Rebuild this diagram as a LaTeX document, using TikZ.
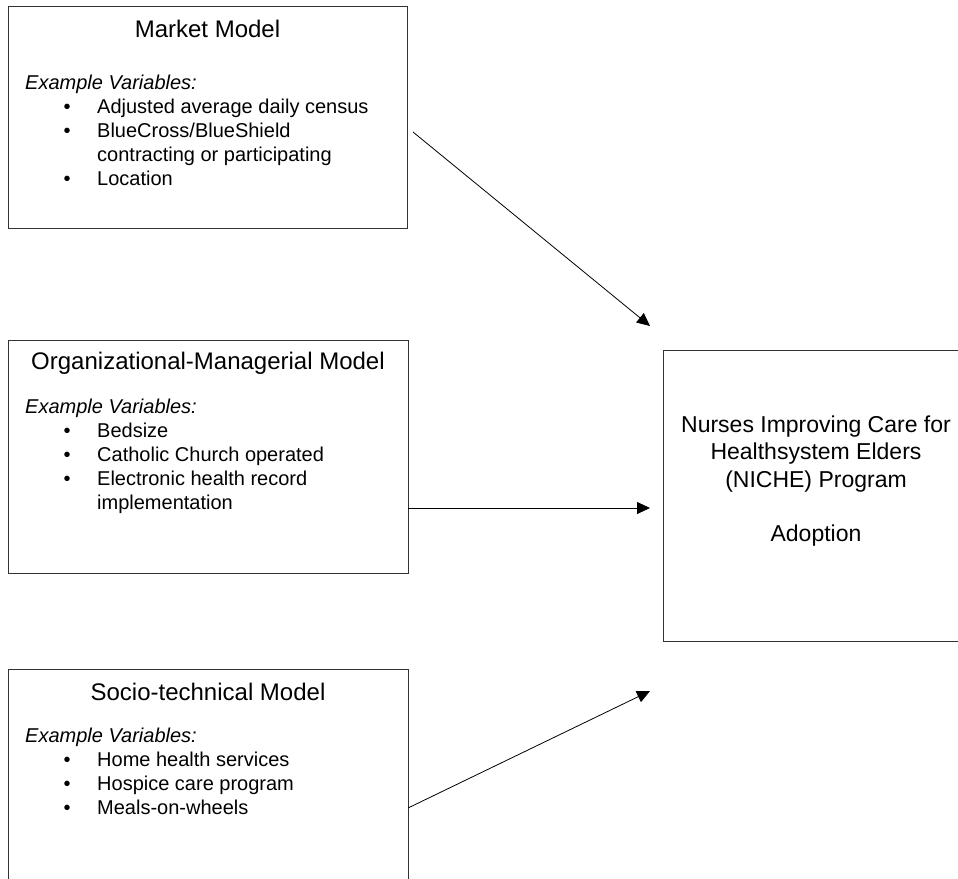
\documentclass[tikz,border=0pt]{standalone}
\usepackage{fontspec}
\setmainfont{Liberation Sans}
\usetikzlibrary{arrows.meta}
\tikzset{
  box/.style={draw=black!80, line width=1pt, anchor=north west, inner sep=0pt},
  head/.style={anchor=base, inner sep=0pt, font=\fontsize{24}{28}\selectfont},
  lead/.style={anchor=base west, inner sep=0pt, font=\fontsize{20}{24}\selectfont\itshape},
  dot/.style={anchor=base, inner sep=0pt, font=\fontsize{20}{24}\selectfont},
  item/.style={anchor=base west, inner sep=0pt, font=\fontsize{20}{24}\selectfont},
  goal/.style={anchor=base, inner sep=0pt, font=\fontsize{23}{27}\selectfont},
  link/.style={-{Triangle[length=13pt,width=12pt]}, line width=0.8pt}
}
\newcommand{\bul}{\textbullet}

\begin{document}
\begin{tikzpicture}[x=1pt, y=-1pt]
  \useasboundingbox (0,0) rectangle (958,878);
  \clip (0,0) rectangle (958,878);

  % market model
  \node[box, minimum width=399pt, minimum height=222pt] (market) at (8,6) {};
  \node[head] (market-title) at (207.5,37) {Market Model};
  \node[lead] (market-lead) at (25,89) {Example Variables:};
  \node[dot] (market-d1) at (67,113) {\bul};
  \node[item] (market-v1) at (97,113) {Adjusted average daily census};
  \node[dot] (market-d2) at (67,137) {\bul};
  \node[item] (market-v2) at (97,137) {BlueCross/BlueShield};
  \node[item] (market-v2b) at (97,161) {contracting or participating};
  \node[dot] (market-d3) at (67,185) {\bul};
  \node[item] (market-v3) at (97,185) {Location};

  % organizational-managerial model
  \node[box, minimum width=400pt, minimum height=233pt] (orgman) at (8,340) {};
  \node[head] (orgman-title) at (208,369) {Organizational-Managerial Model};
  \node[lead] (orgman-lead) at (25,413) {Example Variables:};
  \node[dot] (orgman-d1) at (67,437) {\bul};
  \node[item] (orgman-v1) at (97,437) {Bedsize};
  \node[dot] (orgman-d2) at (67,461) {\bul};
  \node[item] (orgman-v2) at (97,461) {Catholic Church operated};
  \node[dot] (orgman-d3) at (67,485) {\bul};
  \node[item] (orgman-v3) at (97,485) {Electronic health record};
  \node[item] (orgman-v3b) at (97,509) {implementation};

  % socio-technical model
  \node[box, minimum width=400pt, minimum height=230pt] (socio) at (8,669) {};
  \node[head] (socio-title) at (208,700) {Socio-technical Model};
  \node[lead] (socio-lead) at (25,742) {Example Variables:};
  \node[dot] (socio-d1) at (67,766) {\bul};
  \node[item] (socio-v1) at (97,766) {Home health services};
  \node[dot] (socio-d2) at (67,790) {\bul};
  \node[item] (socio-v2) at (97,790) {Hospice care program};
  \node[dot] (socio-d3) at (67,814) {\bul};
  \node[item] (socio-v3) at (97,814) {Meals-on-wheels};

  % outcome
  \node[box, minimum width=306pt, minimum height=291pt] (niche) at (663,350) {};
  \node[goal] (niche-1) at (816,432) {Nurses Improving Care for};
  \node[goal] (niche-2) at (816,459) {Healthsystem Elders};
  \node[goal] (niche-3) at (816,487) {(NICHE) Program};
  \node[goal] (niche-4) at (816,541) {Adoption};

  % arrows
  \coordinate (market-out) at (413,132);
  \coordinate (market-in) at (650,326);
  \coordinate (orgman-out) at (408,508);
  \coordinate (orgman-in) at (650,508);
  \coordinate (socio-out) at (408,808);
  \coordinate (socio-in) at (650,691);
  \draw[link] (market-out) -- (market-in);
  \draw[link] (orgman-out) -- (orgman-in);
  \draw[link] (socio-out) -- (socio-in);
\end{tikzpicture}
\end{document}
